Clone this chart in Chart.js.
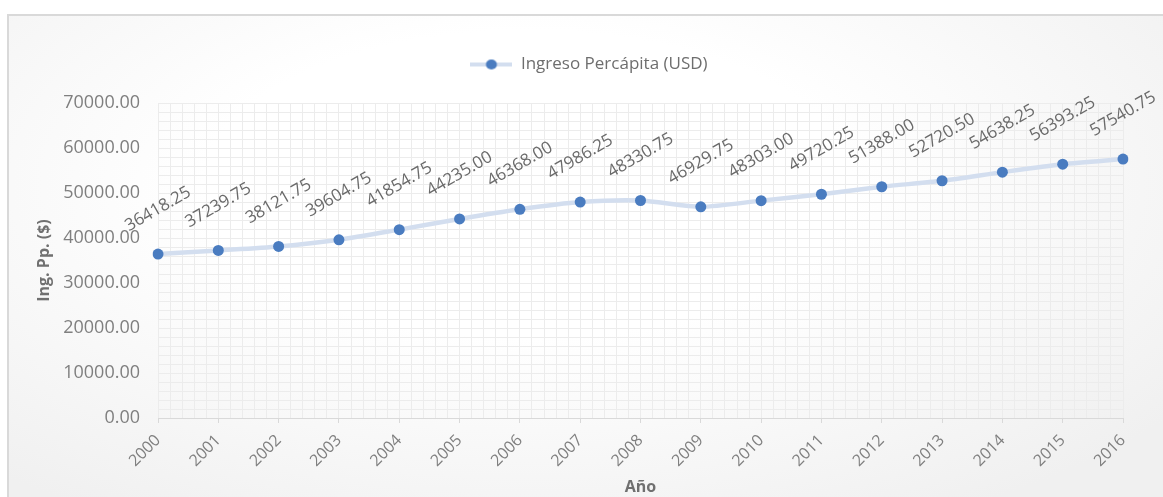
<!DOCTYPE html>
<html>
<head>
<meta charset="utf-8">
<script src="https://cdn.jsdelivr.net/npm/chart.js@4"></script>
<style>
  html, body { margin: 0; padding: 0; background: #fff; overflow: hidden; }
  #frame {
    position: absolute; left: 7px; top: 14px; width: 1154px; height: 481px;
    border: 2px solid #d9d9d9; border-right: none; border-bottom: none;
    background: radial-gradient(ellipse 70% 80% at 45% 35%, #ffffff 40%, #f0f0f0 100%);
  }
  #wrap { position: absolute; left: 0; top: 0; width: 1154px; height: 481px; }
</style>
</head>
<body>
<div id="frame"><div id="wrap"><canvas id="chart"></canvas></div></div>
<script>
// Datos del gráfico
const anios = ["2000", "2001", "2002", "2003", "2004", "2005", "2006", "2007", "2008",
  "2009", "2010", "2011", "2012", "2013", "2014", "2015", "2016"];
const ingreso = [36418.25, 37239.75, 38121.75, 39604.75, 41854.75, 44235.00, 46368.00,
  47986.25, 48330.75, 46929.75, 48303.00, 49720.25, 51388.00, 52720.50, 54638.25,
  56393.25, 57540.75];
const serieNombre = "Ingreso Percápita (USD)";

const colorLinea = "#d3deef";
const colorPunto = "#4a7cc0";
const fuente = "'Open Sans', sans-serif";

// Símbolo de la leyenda: línea con punto al centro
const simbolo = document.createElement("canvas");
simbolo.width = 42;
simbolo.height = 14;
const sctx = simbolo.getContext("2d");
sctx.strokeStyle = colorLinea;
sctx.lineWidth = 4;
sctx.beginPath();
sctx.moveTo(0, 7);
sctx.lineTo(42, 7);
sctx.stroke();
sctx.fillStyle = colorPunto;
sctx.beginPath();
sctx.ellipse(21, 7, 5.5, 5, 0, 0, Math.PI * 2);
sctx.fill();

// Etiquetas de datos giradas encima de cada punto
const etiquetas = {
  id: "etiquetas",
  afterDatasetsDraw(chart) {
    const ctx = chart.ctx;
    const meta = chart.getDatasetMeta(0);
    ctx.save();
    ctx.font = "17px " + fuente;
    ctx.fillStyle = "#6a6a6a";
    ctx.textAlign = "center";
    ctx.textBaseline = "middle";
    meta.data.forEach((pt, i) => {
      ctx.save();
      ctx.translate(pt.x, pt.y - 45);
      ctx.rotate(-30 * Math.PI / 180);
      ctx.fillText(ingreso[i].toFixed(2), 0, 0);
      ctx.restore();
    });
    ctx.restore();
  }
};

// Espacio extra debajo de la leyenda y un poco a la derecha
const espacioLeyenda = {
  id: "espacioLeyenda",
  beforeInit(chart) {
    const fitOrig = chart.legend.fit;
    chart.legend.fit = function () {
      fitOrig.bind(chart.legend)();
      this.height += 20;
    };
  },
  afterLayout(chart) {
    chart.legend.left += 23;
    chart.legend.right += 23;
  }
};

new Chart(document.getElementById("chart"), {
  type: "line",
  data: {
    labels: anios,
    datasets: [{
      label: serieNombre,
      data: ingreso,
      xAxisID: "x",
      yAxisID: "y",
      borderColor: colorLinea,
      borderWidth: 4.5,
      tension: 0.25,
      pointRadius: 5.5,
      pointHoverRadius: 5.5,
      pointBackgroundColor: colorPunto,
      pointBorderColor: colorPunto,
      pointBorderWidth: 0,
      pointStyle: "circle"
    }]
  },
  options: {
    responsive: true,
    maintainAspectRatio: false,
    animation: false,
    layout: { padding: { left: 0, right: 40, top: 30, bottom: 0 } },
    plugins: {
      tooltip: { enabled: false },
      legend: {
        display: true,
        position: "top",
        labels: {
          usePointStyle: true,
          pointStyleWidth: 42,
          color: "#6e6e6e",
          font: { family: fuente, size: 17 },
          padding: 10,
          generateLabels(chart) {
            return [{
              text: serieNombre,
              pointStyle: simbolo,
              fontColor: "#6e6e6e",
              fillStyle: colorPunto,
              strokeStyle: colorPunto,
              lineWidth: 0,
              datasetIndex: 0
            }];
          }
        }
      }
    },
    scales: {
      x: {
        type: "category",
        offset: false,
        grid: { color: "#d9d9d9", lineWidth: 1, tickLength: 5 },
        border: { color: "#d9d9d9" },
        ticks: {
          color: "#7f7f7f",
          font: { family: fuente, size: 16 },
          maxRotation: 45,
          minRotation: 45,
          autoSkip: false,
          padding: 8
        },
        title: {
          display: true,
          text: "Año",
          color: "#707070",
          font: { family: fuente, size: 16, weight: "bold" },
          padding: { top: 0, bottom: 0 }
        },
        afterFit(s) { s.height = 79; }
      },
      y: {
        type: "linear",
        min: 0,
        max: 70000,
        grid: { color: "#d9d9d9", lineWidth: 1, drawTicks: false },
        border: { display: false },
        ticks: {
          stepSize: 10000,
          color: "#7f7f7f",
          font: { family: fuente, size: 18 },
          padding: 18,
          callback: v => Number(v).toFixed(2)
        },
        title: {
          display: true,
          text: "Ing. Pp. ($)",
          color: "#707070",
          font: { family: fuente, size: 16, weight: "bold" },
          padding: { top: 26, bottom: 0 }
        },
        afterFit(s) { s.width = 149; }
      },
      xMenor: {
        type: "linear",
        position: "top",
        min: 0,
        max: 16,
        z: -1,
        ticks: { display: false, stepSize: 0.2 },
        grid: { color: "#ececec", lineWidth: 1, drawTicks: false },
        border: { display: false },
        afterFit(s) { s.height = 0; }
      },
      yMenor: {
        type: "linear",
        position: "right",
        min: 0,
        max: 70000,
        z: -1,
        ticks: { display: false, stepSize: 2000 },
        grid: { color: "#ececec", lineWidth: 1, drawTicks: false },
        border: { display: false },
        afterFit(s) { s.width = 0; }
      }
    }
  },
  plugins: [etiquetas, espacioLeyenda]
});
</script>
</body>
</html>
